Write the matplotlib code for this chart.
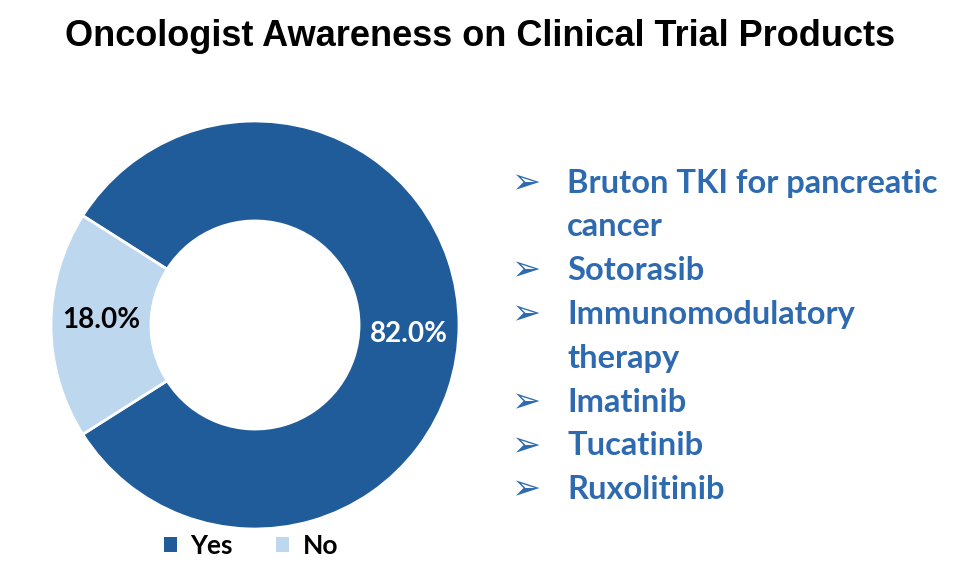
import matplotlib.pyplot as plt

# Data
labels = ['Yes', 'No']
shares = [82.0, 18.0]
colors = ['#1F5C99', '#BDD7EE']
products = ['Bruton TKI for pancreatic\ncancer', 'Sotorasib',
            'Immunomodulatory\ntherapy', 'Imatinib', 'Tucatinib', 'Ruxolitinib']

W, H = 975, 581
fig = plt.figure(figsize=(W / 100, H / 100), dpi=100)


def fx(px):
    return px / W


def fy(py):
    return 1 - py / H


# donut, centre at (255, 325) px, radius ~204 px
R = 204
lim = 1.05
ax = fig.add_axes([fx(255 - R * lim), fy(325 + R * lim), 2 * R * lim / W, 2 * R * lim / H])
wedges, texts, autotexts = ax.pie(
    shares, colors=colors, startangle=212.4, counterclock=True,
    autopct='%.1f%%', pctdistance=0.755,
    wedgeprops=dict(width=0.49, edgecolor='white', linewidth=2),
    textprops=dict(family='Lato', fontweight='bold', fontsize=20))
autotexts[0].set_color('white')
autotexts[1].set_color('black')
x0, y0 = autotexts[0].get_position()
autotexts[0].set_position((x0, y0 - 0.045))
x1, y1 = autotexts[1].get_position()
autotexts[1].set_position((x1, y1 + 0.025))
ax.set_xlim(-lim, lim)
ax.set_ylim(-lim, lim)
ax.set_aspect('equal')
ax.axis('off')

fig.text(fx(480), fy(37), 'Oncologist Awareness on Clinical Trial Products',
         ha='center', va='center', family='Liberation Sans', fontweight='bold',
         fontsize=26, color='black')

# legend
leg = fig.legend(wedges, labels, loc='center', bbox_to_anchor=(fx(251), fy(546)),
                 ncol=2, frameon=False, handlelength=0.5, handleheight=0.5,
                 columnspacing=1.65, handletextpad=0.5,
                 prop=dict(family='Lato', weight='bold', size=19))
for h in leg.legend_handles:
    h.set_edgecolor('none')

# product list
text_blue = '#2E6AB0'
line_h = 43.8
y = 183
for p in products:
    fig.text(fx(511), fy(y), '\u27a2', ha='left', va='center', family='DejaVu Sans',
             fontsize=25, color=text_blue)
    for part in p.split('\n'):
        fig.text(fx(567), fy(y), part, ha='left', va='center', family='Lato',
                 fontweight='bold', fontsize=23.5, color=text_blue)
        y += line_h

fig.savefig('out.png', dpi=100)
